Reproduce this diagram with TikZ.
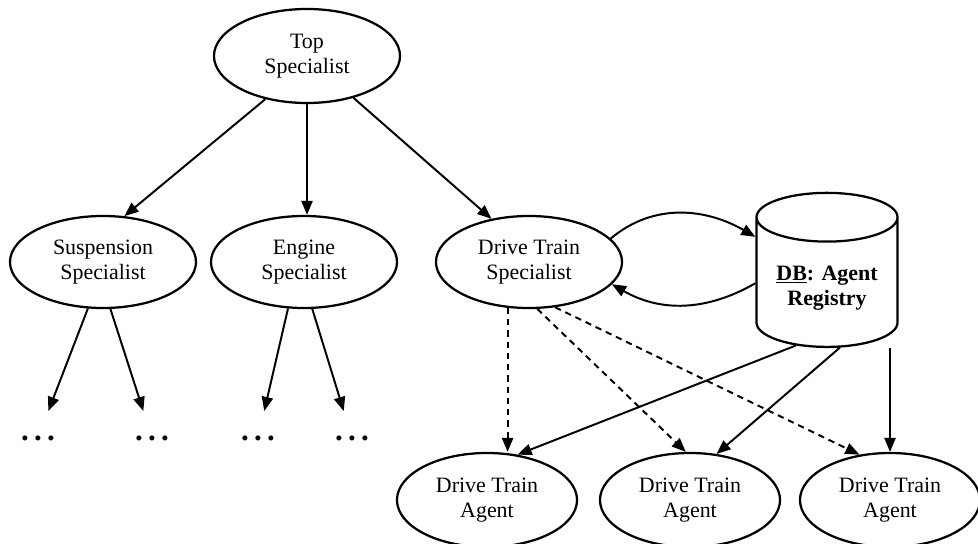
\documentclass[tikz,border=0pt]{standalone}
\usepackage{fontspec}
\setmainfont{Liberation Serif}
\usetikzlibrary{shapes.geometric,arrows.meta}
\begin{document}
\begin{tikzpicture}[
		x=0.025cm, y=-0.025cm,
		font=\fontsize{15.6}{17.9}\selectfont,
		line width=1.4pt,
		>={Triangle[length=10pt,width=8pt]},
			spec/.style = {
				ellipse,
				draw,
				line width=1.6pt,
				align=center,
				inner sep=0pt,
				minimum width=4.65cm,
				minimum height=2.3cm
			},
			agent/.style = {
				spec,
				minimum width=4.5cm,
				minimum height=2.35cm
			},
			more/.style = {
				font=\fontsize{22}{22}\selectfont\bfseries,
				minimum height=1.3cm,
				inner sep=0pt
			},
			registry/.style = {
				cylinder,
				shape border rotate=90,
				draw,
				line width=1.6pt,
				aspect=5.2,
				minimum width=3.525cm,
				minimum height=3.85cm
			},
			lookup/.style = {
				dash pattern=on 4.5pt off 3.5pt
			}
		]
		\useasboundingbox (0,0) rectangle (978,544);
		% specialists
		\node[spec, minimum width=4.65cm, minimum height=2.35cm] (T) at (307,56) {Top\\Specialist};
		\node[spec] (S)  at (103,262) {Suspension\\Specialist};
		\node[spec] (E)  at (304,262) {Engine\\Specialist};
		\node[spec] (D)  at (529,262) {Drive Train\\Specialist};
		% registry
		\node[registry] (DB) at (827,287) {};
		\node[align=center, font=\fontsize{15.6}{17.9}\selectfont\bfseries] (DBtext) at (827,288) {\underline{DB}: Agent\\Registry};
		% agents
		\node[agent] (A1) at (487,500) {Drive Train\\Agent};
		\node[agent] (A2) at (690,500) {Drive Train\\Agent};
		\node[agent] (A3) at (890,500) {Drive Train\\Agent};
		% the rest of the tree
		\node[more] (M1) at ( 38,438) {.\,.\,.};
		\node[more] (M2) at (152,438) {.\,.\,.};
		\node[more] (M3) at (258,438) {.\,.\,.};
		\node[more] (M4) at (352,438) {.\,.\,.};
		\draw[->] (T.226) -- (S.65);
		\draw[->] (T.south) -- (T.south |- E.north);
		\draw[->] (T.318) -- (D.131);
		\draw[->] (S.252) -- (M1);
		\draw[->] (S.279) -- (M2);
		\draw[->] (E.251) -- (M3);
		\draw[->] (E.280) -- (M4);
		% lookup
		\draw[->] (D.16) to[out=40, in=150] (DB.145);
		\draw[->] (DB.177) to[out=210, in=-30] (D.345);
		\draw[->, lookup] (D.245) -- (D.245 |- A1.north);
		\draw[->, lookup] (D.280) -- (A2.95);
		\draw[->, lookup] (D.300) -- (A3.124);
		\draw[->] (DB.242) -- (A1.56);
		\draw[->] (DB.282) -- (A2.60);
		\draw[->] (DB.south -| A3.north) -- (A3.north);
	\end{tikzpicture}
\end{document}
